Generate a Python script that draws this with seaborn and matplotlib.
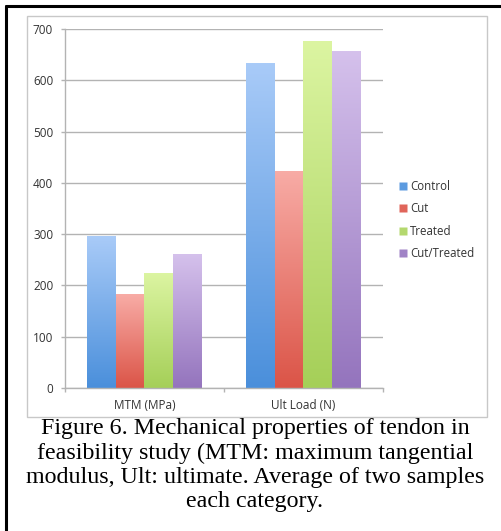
import numpy as np
import pandas as pd
import matplotlib
matplotlib.use("Agg")
import matplotlib.pyplot as plt
from matplotlib.lines import Line2D
from matplotlib.patches import Rectangle
import matplotlib.colors as mcolors
import seaborn as sns

# ---- data ----
metrics = ["MTM (MPa)", "Ult Load (N)"]
groups = ["Control", "Cut", "Treated", "Cut/Treated"]
control = [296, 633]
cut = [183, 424]
treated = [225, 677]
cut_treated = [261, 657]
y_ticks = [0, 100, 200, 300, 400, 500, 600, 700]
caption_lines = ["Figure 6. Mechanical properties of tendon in",
                 "feasibility study (MTM: maximum tangential",
                 "modulus, Ult: ultimate. Average of two samples",
                 "each category."]

# ---- style ----
top_colors = ["#a9cbf8", "#f8aca6", "#dcf5a2", "#d5c1ec"]
bottom_colors = ["#4a8fdb", "#db5447", "#a5cf58", "#9474bd"]
mid_colors = ["#5c9be0", "#e0655a", "#b4d86e", "#a083c6"]

values = [control, cut, treated, cut_treated]
rows = []
for g, vals in zip(groups, values):
    for m, v in zip(metrics, vals):
        rows.append({"metric": m, "group": g, "value": v})
df = pd.DataFrame(rows)

sns.set_style("white")
plt.rcParams["font.family"] = ["Open Sans", "DejaVu Sans"]

W, H = 502, 531
fig = plt.figure(figsize=(W / 100, H / 100), dpi=100)
ax = fig.add_axes([65 / W, 1 - 388 / H, (383 - 65) / W, (388 - 29) / H])

sns.barplot(data=df, x="metric", y="value", hue="group", order=metrics,
            hue_order=groups, palette=mid_colors, width=0.725, saturation=1,
            errorbar=None, legend=False, ax=ax, zorder=3)

ax.set_ylim(0, 700)
ax.set_xlim(-0.5, 1.5)

# gradient fill for bars
for level, cont in enumerate(ax.containers):
    c_top = np.array(mcolors.to_rgb(top_colors[level]))
    c_bot = np.array(mcolors.to_rgb(bottom_colors[level]))
    for patch in cont:
        x0 = patch.get_x()
        w = patch.get_width()
        h = patch.get_height()
        t = np.linspace(0, 1, 256)[:, None]
        img = (c_bot[None, :] * (1 - t) + c_top[None, :] * t)[:, None, :]
        im = ax.imshow(img, extent=(x0, x0 + w, 0, h), origin="lower",
                       aspect="auto", zorder=4, interpolation="bilinear")
        im.set_clip_path(patch)
        patch.set_edgecolor("none")

ax.set_xlim(-0.5, 1.5)
ax.set_ylim(0, 700)

ax.set_yticks(y_ticks)
ax.yaxis.grid(True, color="#b3b3b3", linewidth=1.0, zorder=0)
ax.set_axisbelow(True)
ax.set_xlabel("")
ax.set_ylabel("")
for s in ["top", "right"]:
    ax.spines[s].set_visible(False)
for s in ["left", "bottom"]:
    ax.spines[s].set_color("#b3b3b3")
    ax.spines[s].set_linewidth(1.0)
ax.spines["bottom"].set_zorder(5)

ax.tick_params(axis="y", length=3, width=1, color="#b3b3b3", pad=5.5,
               labelsize=8.5, labelcolor="#333333", left=True)
ax.tick_params(axis="x", which="major", length=0, pad=8,
               labelsize=8.5, labelcolor="#333333")
ax.set_xticks([-0.5, 0.5, 1.5], minor=True)
ax.tick_params(axis="x", which="minor", length=3, width=1, color="#b3b3b3",
               bottom=True)

# legend
handles = [Line2D([0], [0], marker="s", linestyle="none", markersize=5.5,
                  markerfacecolor=c, markeredgecolor="none") for c in mid_colors]
fig.legend(handles, groups, loc="upper left",
           bbox_to_anchor=(394 / W, 1 - 174 / H), frameon=False,
           fontsize=8.3, labelcolor="#333333", handlelength=0.6,
           handletextpad=0.3, labelspacing=0.82, borderpad=0)

# chart box
fig.add_artist(Rectangle((27 / W, 1 - 417 / H), (487 - 27) / W, (417 - 16) / H,
                         transform=fig.transFigure, fill=False,
                         edgecolor="#c8c8c8", linewidth=1.0))
# black frame lines (top and left)
fig.add_artist(Line2D([5.5 / W, 1], [1 - 5.5 / H, 1 - 5.5 / H],
                      transform=fig.transFigure, color="black", linewidth=2.2))
fig.add_artist(Line2D([6 / W, 6 / W], [0, 1 - 5.5 / H],
                      transform=fig.transFigure, color="black", linewidth=2.2))

line_y = [426, 451, 475, 499]
for txt, yy in zip(caption_lines, line_y):
    fig.text(255 / W, 1 - yy / H, txt, ha="center", va="center_baseline",
             family=["Liberation Serif", "DejaVu Serif"], fontsize=17.3,
             color="black")

fig.savefig("out.png", dpi=100)
